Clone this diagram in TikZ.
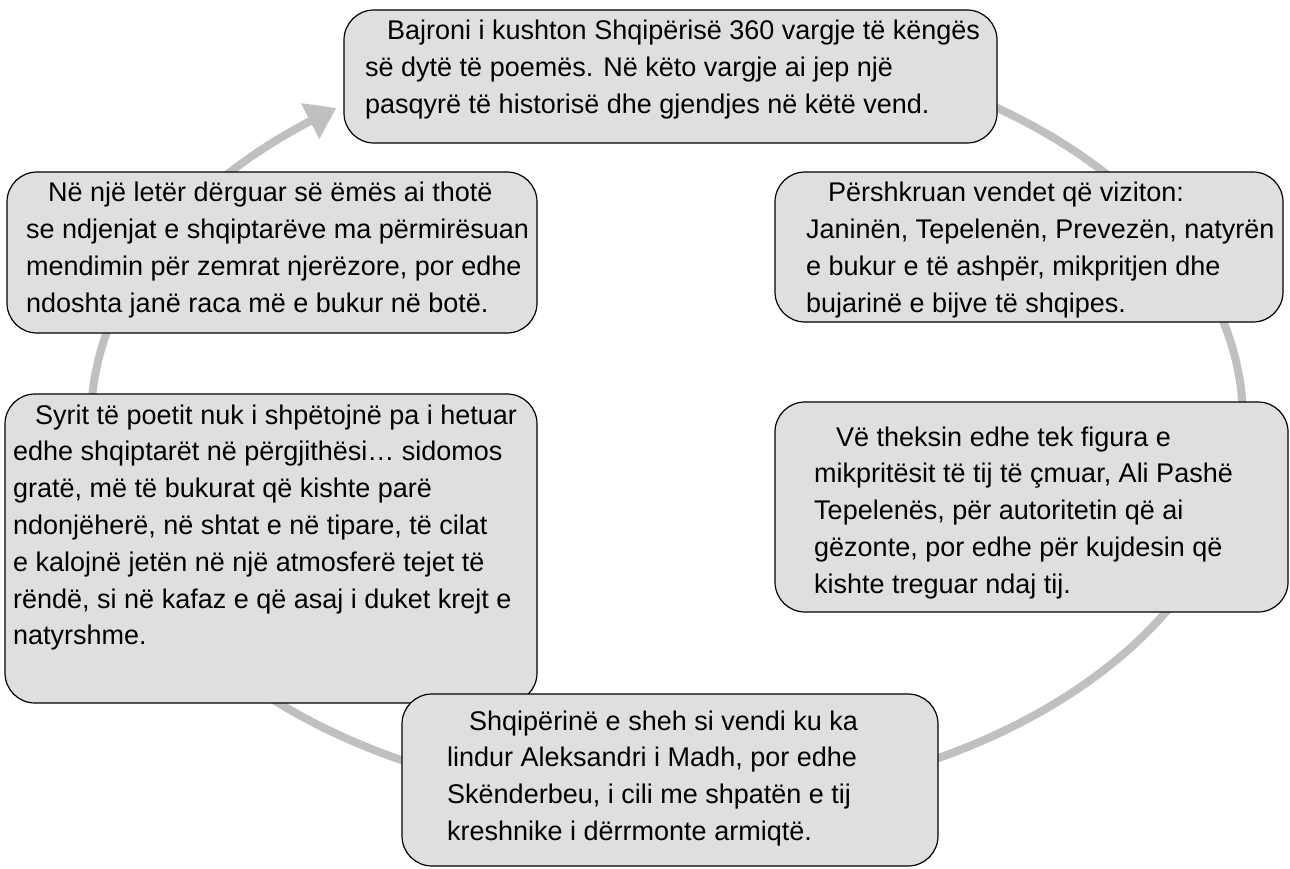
\documentclass[tikz,border=0pt]{standalone}
\usepackage{fontspec}
\setmainfont{Liberation Sans}
\usetikzlibrary{arrows.meta,bending}
\definecolor{boxfill}{RGB}{223,223,223}
\definecolor{ringcol}{RGB}{192,192,192}
\newcommand{\boxtext}[1]{\parbox[t]{640pt}{\raggedright\hspace*{22pt}#1}}
\begin{document}
\begin{tikzpicture}[x=1pt,y=-1pt,
  box/.style={draw=black, line width=1.2pt, fill=boxfill, rounded corners=30pt, inner sep=0pt, rectangle},
  txt/.style={anchor=base west, inner sep=0pt, font=\fontsize{27}{36.8}\selectfont},
  ring/.style={draw=ringcol, line width=8pt, -{Triangle[width=38pt,length=30pt,bend]}}]
\useasboundingbox (0,0) rectangle (1290,869);
\coordinate (c) at (667,421);
% cycle connector around all boxes, back into the top box
\draw[ring] (c) ++(-90:576 and 382) arc[start angle=-90, end angle=235, x radius=576, y radius=382];
% boxes
\node[box, minimum width=653pt, minimum height=133pt] (top) at (670.5,76.5) {};
\node[box, minimum width=508pt, minimum height=150pt] (rtop) at (1029,247) {};
\node[box, minimum width=530pt, minimum height=161pt] (ltop) at (272,252.5) {};
\node[box, minimum width=532pt, minimum height=309pt] (lbig) at (271,548.5) {};
\node[box, minimum width=513pt, minimum height=210pt] (rbot) at (1031.5,507) {};
\node[box, minimum width=536pt, minimum height=172pt] (bot) at (670,780) {};
% texts
\node[txt] (ttop) at (365,40) {\boxtext{Bajroni i kushton Shqipërisë 360 vargje të këngës\\së dytë të poemës. Në këto vargje ai jep një\\pasqyrë të historisë dhe gjendjes në këtë vend.}};
\node[txt] (trtop) at (806,202) {\boxtext{Përshkruan vendet që viziton:\\Janinën, Tepelenën, Prevezën, natyrën\\e bukur e të ashpër, mikpritjen dhe\\bujarinë e bijve të shqipes.}};
\node[txt] (tltop) at (26,202) {\boxtext{Në një letër dërguar së ëmës ai thotë\\se ndjenjat e shqiptarëve ma përmirësuan\\mendimin për zemrat njerëzore, por edhe\\ndoshta janë raca më e bukur në botë.}};
\node[txt] (tlbig) at (13,424) {\boxtext{Syrit të poetit nuk i shpëtojnë pa i hetuar\\edhe shqiptarët në përgjithësi… sidomos\\gratë, më të bukurat që kishte parë\\ndonjëherë, në shtat e në tipare, të cilat\\e kalojnë jetën në një atmosferë tejet të\\rëndë, si në kafaz e që asaj i duket krejt e\\natyrshme.}};
\node[txt] (trbot) at (814,446) {\boxtext{Vë theksin edhe tek figura e\\mikpritësit të tij të çmuar, Ali Pashë\\Tepelenës, për autoritetin që ai\\gëzonte, por edhe për kujdesin që\\kishte treguar ndaj tij.}};
\node[txt] (tbot) at (447,730) {\boxtext{Shqipërinë e sheh si vendi ku ka\\lindur Aleksandri i Madh, por edhe\\Skënderbeu, i cili me shpatën e tij\\kreshnike i dërrmonte armiqtë.}};
\end{tikzpicture}
\end{document}
